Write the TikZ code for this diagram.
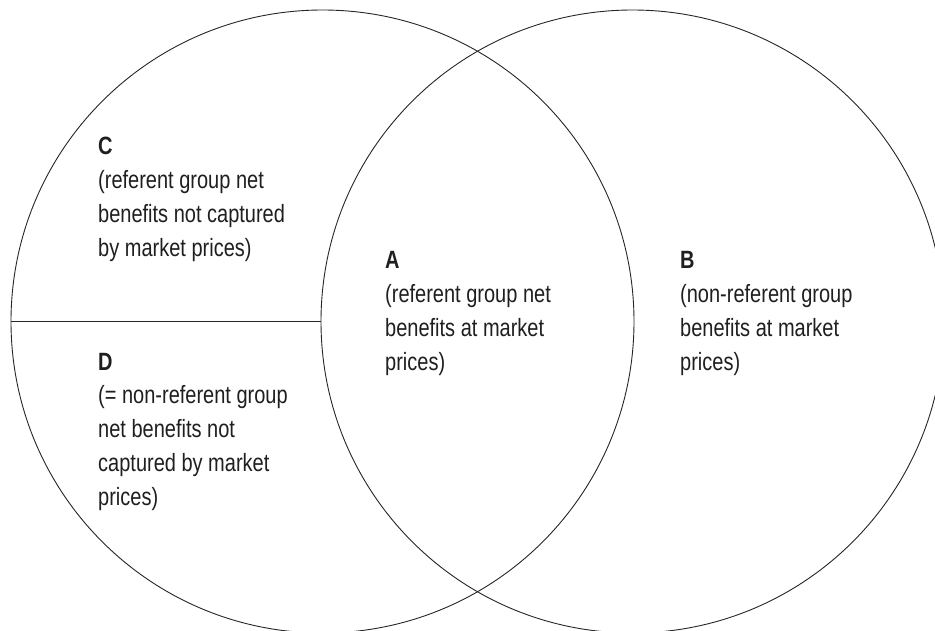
\documentclass[tikz,border=0pt]{standalone}
\usepackage{fontspec}
\setmainfont{Liberation Sans}[FakeStretch=0.8]
\begin{document}
\begin{tikzpicture}[x=1pt,y=-1pt,
  ring/.style={circle,draw=black!85,line width=0.9pt,minimum size=623pt,inner sep=0pt},
  divider/.style={draw=black!85,line width=0.9pt},
  lbl/.style={anchor=base west,inner sep=0pt,text=black!88,
    font=\fontsize{25}{34}\selectfont}]
\clip (0,0) rectangle (935,631);
\node[ring] (L) at (322.5,321.5) {};
\node[ring] (R) at (632.5,321.5) {};
\path[divider] (L.west) -- (R.west);
\node[lbl] (C) at (98,155) {\def\arraystretch{1}\begin{tabular}[t]{@{}l@{}}\textbf{C}\\(referent group net\\benefits not captured\\by market prices)\end{tabular}};
\node[lbl] (D) at (98,370) {\def\arraystretch{1}\begin{tabular}[t]{@{}l@{}}\textbf{D}\\(= non-referent group\\net benefits not\\captured by market\\prices)\end{tabular}};
\node[lbl] (A) at (385,269) {\def\arraystretch{1}\begin{tabular}[t]{@{}l@{}}\textbf{A}\\(referent group net\\benefits at market\\prices)\end{tabular}};
\node[lbl] (B) at (680,269) {\def\arraystretch{1}\begin{tabular}[t]{@{}l@{}}\textbf{B}\\(non-referent group\\benefits at market\\prices)\end{tabular}};
\end{tikzpicture}
\end{document}
